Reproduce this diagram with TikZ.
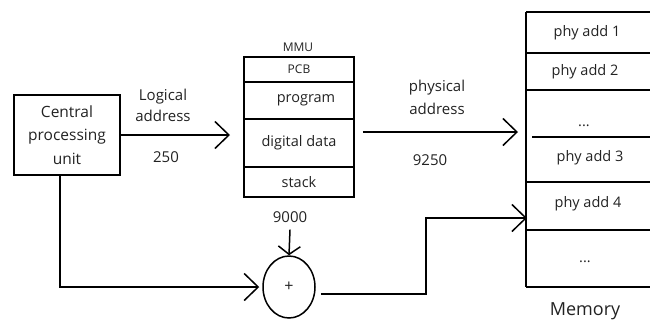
\documentclass[tikz,border=0pt]{standalone}
\usepackage{fontspec}
\setmainfont{Open Sans}
\usetikzlibrary{arrows.meta,shapes.geometric}
\definecolor{ink}{HTML}{222222}
\tikzset{
  conn/.style={line width=1.5pt, -{Straight Barb[length=14pt,width=27pt,line width=1.5pt]}},
  smallconn/.style={line width=1.5pt, -{Straight Barb[length=8pt,width=22pt,line width=1.5pt]}},
  plain/.style={line width=1.5pt},
  cell/.style={draw, line width=1.5pt, minimum width=110pt, inner sep=0pt, text=ink,
    font=\fontsize{14.5}{17}\selectfont},
  lbl/.style={text=ink, inner sep=0pt, align=center, font=\fontsize{15}{21}\selectfont},
  memtxt/.style={text=ink, inner sep=0pt, font=\fontsize{14.5}{17}\selectfont},
}
\begin{document}
\begin{tikzpicture}[x=1pt,y=-1pt]
\useasboundingbox (0,0) rectangle (650,322);

% CPU
\node[draw, line width=1.5pt, minimum width=106pt, minimum height=80pt, align=center,
      text=ink, inner sep=0pt, font=\fontsize{15.5}{23.5}\selectfont] (cpu) at (67,135)
      {Central\\processing\\unit};

% MMU stack
\node[lbl, font=\fontsize{12}{14}\selectfont] (mmu) at (298,47) {MMU};
\node[cell, minimum height=25pt, font=\fontsize{12}{14}\selectfont] (pcb) at (299,69.5) {PCB};
\node[cell, minimum height=37pt] (prog) at (299,100.5) {\hspace*{14pt}program};
\node[cell, minimum height=48pt] (data) at (299,143) {digital data};
\node[cell, minimum height=30pt] (stack) at (299,182) {stack};

% labels on the connectors
\node[lbl] (logical) at (163,105) {Logical\\address};
\node[lbl] (n250) at (166,157) {250};
\node[lbl, font=\fontsize{15}{23}\selectfont] (physical) at (437,97) {physical\\address};
\node[lbl] (n9250) at (430,160) {9250};
\node[lbl] (n9000) at (290,217) {9000};

% adder
\node[draw, ellipse, line width=1.5pt, minimum width=52pt, minimum height=62pt,
      inner sep=0pt, text=ink, font=\fontsize{16}{18}\selectfont] (adder) at (289,287) {+};

% memory column
\draw[plain] (526,12) -- (526,287);
\foreach \y in {12,53,90,182,230,287} \draw[plain] (526,\y) -- (650,\y);
\draw[plain] (532,137) -- (650,137);
\node[memtxt] (m1) at (587,33) {phy add 1};
\node[memtxt] (m2) at (585,72) {phy add 2};
\node[memtxt] (m3) at (584,126) {...};
\node[memtxt] (m4) at (590,158) {phy add 3};
\node[memtxt] (m5) at (588,204) {phy add 4};
\node[memtxt] (m6) at (585,262) {...};
\node[text=ink, inner sep=0pt, font=\fontsize{18}{20}\selectfont] (memory) at (585,311) {Memory};

% connector ends
\coordinate (login) at (230,135);
\coordinate (physin) at (518,132);
\coordinate (cpuout) at (60,175);
\coordinate (bend) at (426,294);
\coordinate (memin) at (527,218);

% connectors
\draw[conn] (cpu.east) -- (login);
\draw[conn] (data.east |- physin) ++(8,0) -- (physin);
\draw[conn] (cpuout) |- ([xshift=-3pt]adder.west);
\draw[smallconn] ([yshift=-7pt]n9000.south) -- (adder.north);
\draw[conn] ([xshift=5pt,yshift=-7pt]adder.east) -- (bend) |- (memin);
\end{tikzpicture}
\end{document}
